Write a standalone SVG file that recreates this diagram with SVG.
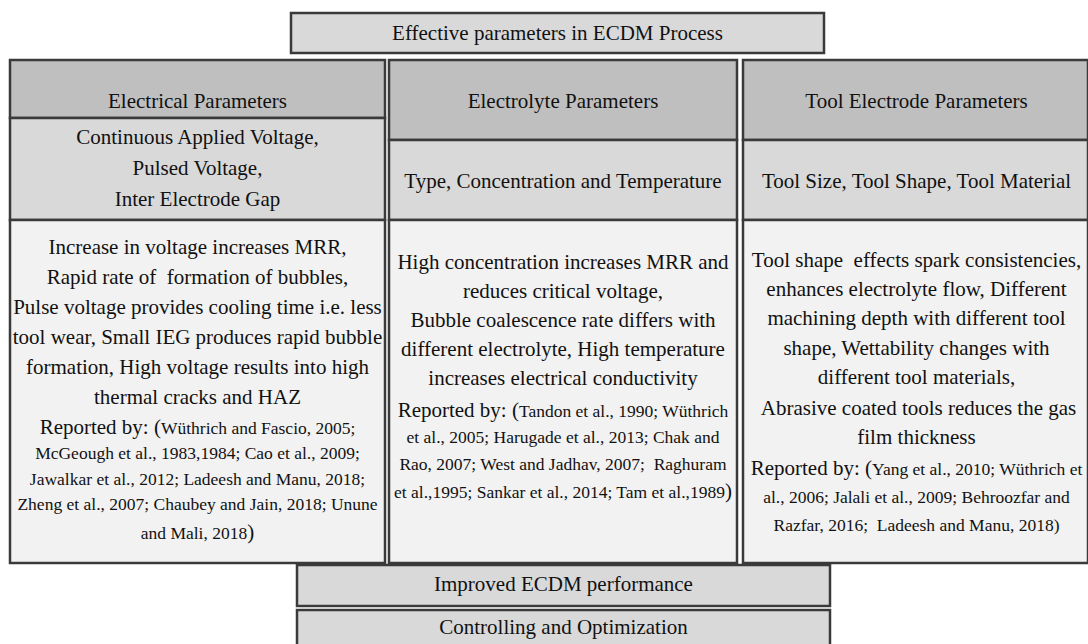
<svg xmlns="http://www.w3.org/2000/svg" width="1088" height="644" viewBox="0 0 1088 644">
<style>
  .box{stroke:#3a3a3a;stroke-width:2.5}
  .hd{fill:#bfbfbf}
  .sub{fill:#d9d9d9}
  .body{fill:#f2f2f2}
  text{font-family:'Liberation Serif','Tinos','DejaVu Serif',serif;fill:#111;text-anchor:middle;white-space:pre}
  .t{font-size:21px}
  .s{font-size:17.5px}
</style>
<rect width="1088" height="644" fill="#ffffff"/>
<g id="connectors"/>
<g id="title">
  <rect class="box sub" x="291" y="13" width="533" height="40"/>
  <text class="t" x="557.5" y="40">Effective parameters in ECDM Process</text>
</g>
<g id="col-electrical">
  <rect class="box hd" x="10" y="60" width="375" height="58"/>
  <rect class="box sub" x="10" y="118" width="375" height="102"/>
  <rect class="box body" x="10" y="220" width="375" height="343"/>
  <text class="t" x="197.5" y="108">Electrical Parameters</text>
  <text class="t" x="197.5" y="144">Continuous Applied Voltage,</text>
  <text class="t" x="197.5" y="175">Pulsed Voltage,</text>
  <text class="t" x="197.5" y="206">Inter Electrode Gap</text>
  <text class="t" x="197.5" y="254">Increase in voltage increases MRR,</text>
  <text class="t" x="197.5" y="284">Rapid rate of  formation of bubbles,</text>
  <text class="t" x="197.5" y="314">Pulse voltage provides cooling time i.e. less</text>
  <text class="t" x="197.5" y="344">tool wear, Small IEG produces rapid bubble</text>
  <text class="t" x="197.5" y="374">formation, High voltage results into high</text>
  <text class="t" x="197.5" y="404">thermal cracks and HAZ</text>
  <text x="197.5" y="434"><tspan class="t">Reported by: (</tspan><tspan class="s">Wüthrich and Fascio, 2005;</tspan></text>
  <text class="s" x="197.5" y="459">McGeough et al., 1983,1984; Cao et al., 2009;</text>
  <text class="s" x="197.5" y="485">Jawalkar et al., 2012; Ladeesh and Manu, 2018;</text>
  <text class="s" x="197.5" y="510">Zheng et al., 2007; Chaubey and Jain, 2018; Unune</text>
  <text x="197.5" y="539"><tspan class="s">and Mali, 2018</tspan><tspan class="t">)</tspan></text>
</g>
<g id="col-electrolyte">
  <rect class="box hd" x="389" y="60" width="348" height="80"/>
  <rect class="box sub" x="389" y="140" width="348" height="80"/>
  <rect class="box body" x="389" y="220" width="348" height="343"/>
  <text class="t" x="563" y="108">Electrolyte Parameters</text>
  <text class="t" x="563" y="188">Type, Concentration and Temperature</text>
  <text class="t" x="563" y="269">High concentration increases MRR and</text>
  <text class="t" x="563" y="298">reduces critical voltage,</text>
  <text class="t" x="563" y="327">Bubble coalescence rate differs with</text>
  <text class="t" x="563" y="356">different electrolyte, High temperature</text>
  <text class="t" x="563" y="385">increases electrical conductivity</text>
  <text x="563" y="417"><tspan class="t">Reported by: (</tspan><tspan class="s">Tandon et al., 1990; Wüthrich</tspan></text>
  <text class="s" x="563" y="443">et al., 2005; Harugade et al., 2013; Chak and</text>
  <text class="s" x="563" y="470">Rao, 2007; West and Jadhav, 2007;  Raghuram</text>
  <text x="563" y="498"><tspan class="s">et al.,1995; Sankar et al., 2014; Tam et al.,1989</tspan><tspan class="t">)</tspan></text>
</g>
<g id="col-tool">
  <rect class="box hd" x="743" y="60" width="345" height="80"/>
  <rect class="box sub" x="743" y="140" width="345" height="80"/>
  <rect class="box body" x="743" y="220" width="345" height="343"/>
  <text class="t" x="916.5" y="108">Tool Electrode Parameters</text>
  <text class="t" x="916.5" y="188">Tool Size, Tool Shape, Tool Material</text>
  <text class="t" x="916.5" y="267">Tool shape  effects spark consistencies,</text>
  <text class="t" x="916.5" y="296">enhances electrolyte flow, Different</text>
  <text class="t" x="916.5" y="325">machining depth with different tool</text>
  <text class="t" x="916.5" y="355">shape, Wettability changes with</text>
  <text class="t" x="916.5" y="384">different tool materials,</text>
  <text class="t" x="916.5" y="415"> Abrasive coated tools reduces the gas</text>
  <text class="t" x="916.5" y="444">film thickness</text>
  <text x="916.5" y="475"><tspan class="t">Reported by: (</tspan><tspan class="s">Yang et al., 2010; Wüthrich et</tspan></text>
  <text class="s" x="916.5" y="503">al., 2006; Jalali et al., 2009; Behroozfar and</text>
  <text class="s" x="916.5" y="531">Razfar, 2016;  Ladeesh and Manu, 2018)</text>
</g>
<g id="improved">
  <rect class="box sub" x="297" y="565" width="533" height="41"/>
  <text class="t" x="563.5" y="591">Improved ECDM performance</text>
</g>
<g id="controlling">
  <rect class="box sub" x="297" y="610" width="533" height="40"/>
  <text class="t" x="563.5" y="634">Controlling and Optimization</text>
</g>
</svg>
